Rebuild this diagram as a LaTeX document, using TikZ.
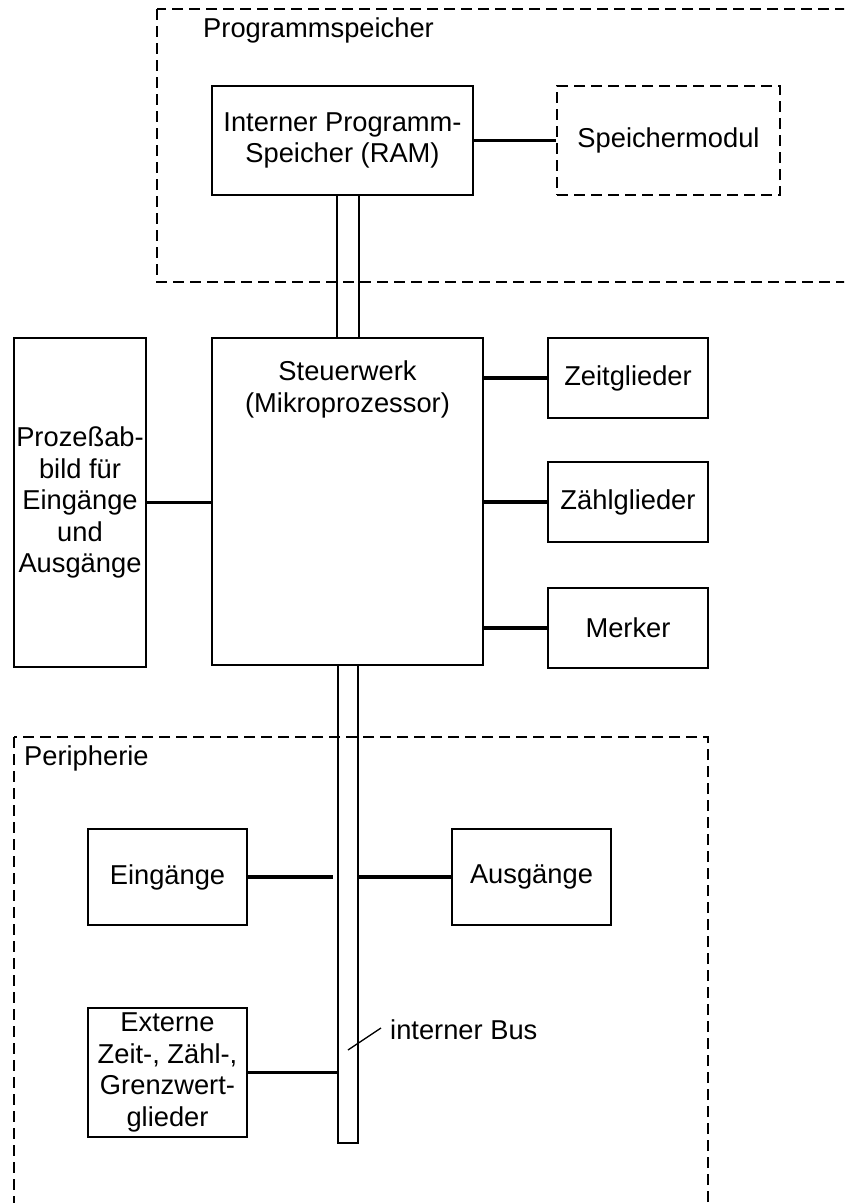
\documentclass[tikz,border=0pt]{standalone}
\usepackage{fontspec}
\setmainfont{Liberation Sans}
\begin{document}
\begin{tikzpicture}[x=1pt,y=-1pt,
  every node/.style={font=\fontsize{27.3}{31.5}\selectfont},
  blk/.style={draw, line width=1.6pt, inner sep=0pt, align=center},
  dashblk/.style={blk, dash pattern=on 11pt off 6pt},
  frame/.style={draw, line width=1.6pt, dash pattern=on 11pt off 6pt},
  link/.style={line width=3.6pt},
  busline/.style={line width=1.6pt},
  txt/.style={inner sep=0pt, align=center}]
\clip (0,0) rectangle (844,1203);
\fill[white] (0,0) rectangle (844,1203);

% group frames
\draw[frame] (157,9) rectangle (900,282);
\node[txt, anchor=west] (lprog) at (203,30) {Programmspeicher};
\draw[frame] (14,737) rectangle (708,1260);
\node[txt, anchor=west] (lperi) at (24,758) {Peripherie};

% program memory
\node[blk, minimum width=261pt, minimum height=109pt] (ram) at (342.5,140.5)
  {Interner Programm-\\Speicher (RAM)};
\node[dashblk, minimum width=223pt, minimum height=109pt] (mod) at (668.5,140.5)
  {Speichermodul};

% control unit and its neighbours
\node[blk, minimum width=271pt, minimum height=327pt] (cpu) at (347.5,501.5) {};
\node[txt, anchor=north] (cputxt) at (347.5,361) {Steuerwerk\\(Mikroprozessor)};
\node[blk, minimum width=132pt, minimum height=329pt] (pab) at (80,502.5)
  {Prozeßab-\\bild für\\Eingänge\\und\\Ausgänge};
\node[blk, minimum width=160pt, minimum height=80pt] (zeit) at (628,378) {Zeitglieder};
\node[blk, minimum width=160pt, minimum height=80pt] (zaehl) at (628,502) {Zählglieder};
\node[blk, minimum width=160pt, minimum height=80pt] (merk) at (628,628) {Merker};

% periphery
\node[blk, minimum width=159pt, minimum height=96pt] (ein) at (167.5,877) {Eingänge};
\node[blk, minimum width=159pt, minimum height=96pt] (aus) at (531.5,877) {Ausgänge};
\node[blk, minimum width=159pt, minimum height=129pt] (ext) at (167.5,1072.5)
  {Externe\\Zeit-, Zähl-,\\Grenzwert-\\glieder};

% internal bus
\node[blk, minimum width=20pt, minimum height=478pt] (bus) at (348,904) {};
\draw[busline] (bus.west |- ram.south) -- (bus.west |- cpu.north);
\draw[busline] (bus.east |- ram.south) -- (bus.east |- cpu.north);

% connections
\draw[link] (ram.east) -- (mod.west);
\draw[link] (pab.east) -- (pab.east -| cpu.west);
\draw[link] (zeit.west) -- (zeit.west -| cpu.east);
\draw[link] (zaehl.west) -- (zaehl.west -| cpu.east);
\draw[link] (merk.west) -- (merk.west -| cpu.east);
\draw[link] (ein.east) -- ([xshift=-4pt]ein.east -| bus.west);
\draw[link] (aus.west) -- (aus.west -| bus.east);
\draw[link] (ext.east) -- (ext.east -| bus.west);

% bus label
\coordinate (busmark) at (348,1050);
\node[txt, anchor=west] (buslbl) at (390,1030) {interner Bus};
\draw[line width=1.3pt] (busmark) -- (381,1028);
\end{tikzpicture}
\end{document}
